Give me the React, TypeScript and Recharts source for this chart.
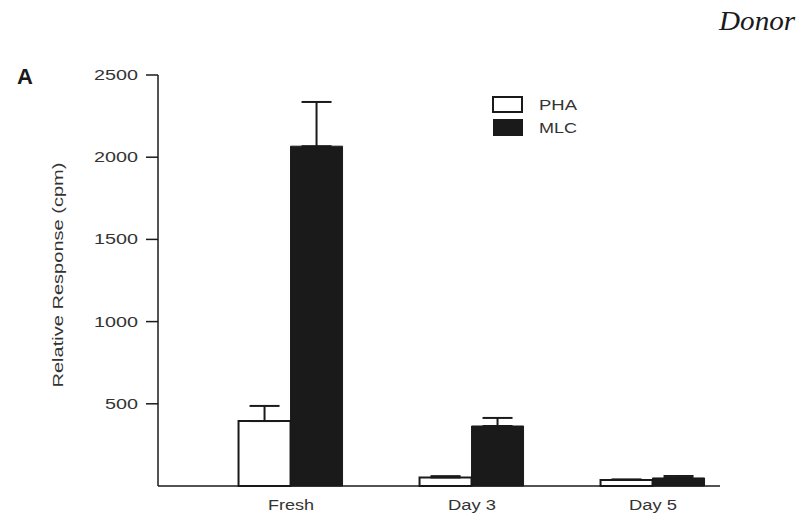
import { Bar, BarChart, ErrorBar, XAxis, YAxis } from 'recharts'

const CATEGORIES = ['Fresh', 'Day 3', 'Day 5']
const PHA = [395, 52, 37]
const PHA_ERR = [92, 8, 3]
const MLC = [2067, 365, 49]
const MLC_ERR = [269, 49, 12]
const Y_TICKS = [500, 1000, 1500, 2000, 2500]

const INK = '#1a1a1a'
const FONT = '"Liberation Sans", Arial, sans-serif'

// one-sided (upward) error bars, like the original figure
const rows = CATEGORIES.map((name, i) => ({
  x: i,
  name,
  pha: PHA[i],
  phaErr: [0, PHA_ERR[i]],
  mlc: MLC[i],
  mlcErr: [0, MLC_ERR[i]],
}))

function YTick({ x, y, payload }: any) {
  const s = String(payload.value)
  return (
    <text x={x} y={y + 5} textAnchor="end" fontFamily={FONT} fontSize={14} fill="#333"
      textLength={s.length * 11} lengthAdjust="spacingAndGlyphs">
      {s}
    </text>
  )
}

function XTick({ x, y, payload }: any) {
  const s = CATEGORIES[payload.value] ?? ''
  return (
    <text x={x} y={y + 24} textAnchor="middle" fontFamily={FONT} fontSize={14} fill="#333"
      textLength={s === 'Fresh' ? 46 : 48} lengthAdjust="spacingAndGlyphs">
      {s}
    </text>
  )
}

function YLabel() {
  return (
    <text x={0} y={0} transform="translate(63 275) rotate(-90)" textAnchor="middle"
      fontFamily={FONT} fontSize={15} fill="#333" textLength={225} lengthAdjust="spacingAndGlyphs">
      Relative Response (cpm)
    </text>
  )
}

function KeyBox() {
  return (
    <svg width={100} height={42} style={{ display: 'block' }}>
      <rect x={1} y={1} width={29} height={15} fill="#fff" stroke={INK} strokeWidth={2} />
      <rect x={1} y={23} width={30} height={17} fill={INK} />
      <text x={47} y={14} fontFamily={FONT} fontSize={14} fill="#333" textLength={38} lengthAdjust="spacingAndGlyphs">PHA</text>
      <text x={47} y={37} fontFamily={FONT} fontSize={14} fill="#333" textLength={38} lengthAdjust="spacingAndGlyphs">MLC</text>
    </svg>
  )
}

export default function App() {
  return (
    <div style={{ position: 'absolute', left: 0, top: 0, width: 806, height: 520, background: '#fff', overflow: 'hidden' }}>
      <BarChart width={806} height={520} data={rows} margin={{ top: 75, right: 86, left: 0, bottom: 0 }} barGap={0}>
        <XAxis
          dataKey="x"
          type="number"
          domain={[-0.735, 2.37]}
          allowDataOverflow
          ticks={[0, 1, 2]}
          tick={<XTick />}
          tickLine={false}
          tickSize={0}
          tickMargin={0}
          height={34}
          axisLine={{ stroke: INK, strokeWidth: 1.5 }}
        />
        <YAxis
          type="number"
          domain={[0, 2500]}
          ticks={Y_TICKS}
          width={158}
          tick={<YTick />}
          tickSize={12}
          tickMargin={8}
          tickLine={{ stroke: INK, strokeWidth: 1.5 }}
          axisLine={{ stroke: INK, strokeWidth: 1.5 }}
          label={{ content: <YLabel /> }}
        />
        <Bar dataKey="pha" name="PHA" fill="#fff" stroke={INK} strokeWidth={2} barSize={52} isAnimationActive={false}>
          <ErrorBar dataKey="phaErr" direction="y" width={15} stroke={INK} strokeWidth={2} />
        </Bar>
        <Bar dataKey="mlc" name="MLC" fill={INK} stroke={INK} strokeWidth={1} barSize={52} isAnimationActive={false}>
          <ErrorBar dataKey="mlcErr" direction="y" width={15} stroke={INK} strokeWidth={2} />
        </Bar>
      </BarChart>
      <div style={{ position: 'absolute', left: 492, top: 96 }}>
        <KeyBox />
      </div>
      <div style={{ position: 'absolute', left: 17, top: 64, fontFamily: FONT, fontWeight: 'bold', fontSize: 22, color: INK }}>A</div>
      <div style={{ position: 'absolute', left: 719, top: 6, fontFamily: '"Liberation Serif", serif', fontStyle: 'italic', fontSize: 27, color: INK, whiteSpace: 'nowrap', transform: 'scaleX(1.08)', transformOrigin: 'left top' }}>
        Donor
      </div>
    </div>
  )
}
